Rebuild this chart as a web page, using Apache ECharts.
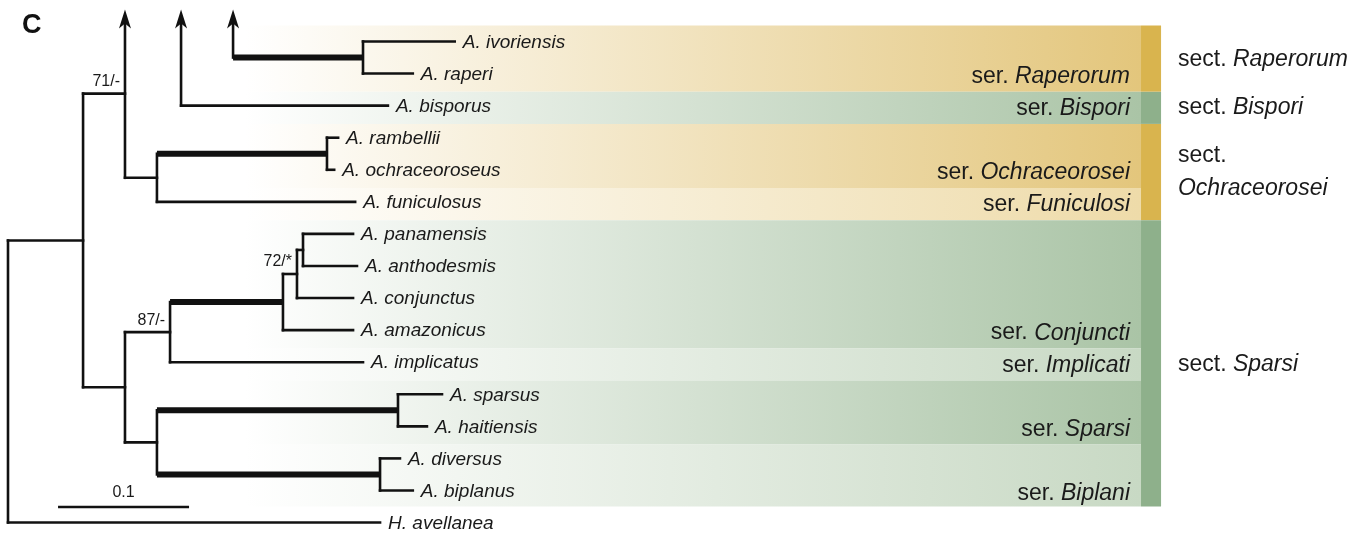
<!DOCTYPE html>
<html><head><meta charset="utf-8">
<script src="https://cdn.jsdelivr.net/npm/echarts@6/dist/echarts.min.js"></script>
<style>html,body{margin:0;padding:0;background:#fff}#c{width:1363px;height:533px}</style>
</head><body><div id="c"></div>
<script>
// ---------------- data ----------------
const tipNames = ['A. ivoriensis','A. raperi','A. bisporus','A. rambellii','A. ochraceoroseus','A. funiculosus','A. panamensis','A. anthodesmis','A. conjunctus','A. amazonicus','A. implicatus','A. sparsus','A. haitiensis','A. diversus','A. biplanus','H. avellanea'];
const tipDepths = [0.341,0.309,0.290,0.252,0.249,0.265,0.2634,0.2664,0.2634,0.2634,0.271,0.3313,0.3198,0.2992,0.309,0.284];
const tipParents = ['raper','raper','n71','ochr','ochr','ochFun','panAnth','panAnth','n72','conjG','n87','spars','spars','bipl','bipl','root'];
const nodeNames = ['root','ingroup','n71','raper','ochFun','ochr','sparsiSect','n87','conjG','n72','panAnth','spBi','spars','bipl'];
const nodeDepths = [0,0.0573,0.0893,0.271,0.1137,0.2435,0.0893,0.1237,0.2099,0.2206,0.2252,0.1137,0.2977,0.2840];
const nodeParents = [null,'root','ingroup','n71','n71','ochFun','ingroup','sparsiSect','n87','conjG','n72','sparsiSect','spBi','spBi'];
const nodeSupport = ['','','71/-','','','','','87/-','','72/*','','','',''];
const thickStems = ['raper','ochr','conjG','spars','bipl'];
const cutStems = ['raper','A. bisporus'];
const cutStemDepths = [0.1718,0.1321];
const seriesNames = ['Raperorum','Bispori','Ochraceorosei','Funiculosi','Conjuncti','Implicati','Sparsi','Biplani'];
const seriesFirst = [0,2,3,5,6,10,11,13];
const seriesLast  = [1,2,4,5,9,10,12,14];
const seriesTone  = ['gold','green','gold','goldLight','green','greenLight','green','greenLight'];
const sectNames = ['Raperorum','Bispori','Ochraceorosei','Sparsi'];
const sectFirst = [0,2,3,6];
const sectLast  = [1,2,5,14];
const sectTone  = ['gold','green','gold','green'];
const scaleBarLength = 0.1;
const scaleBarLabel = '0.1';
const panelLetter = 'C';

// ---------------- layout / style ----------------
const PX_PER_UNIT = 1310, ROOT_PX = 8, ROW0_PX = 41.5, ROW_PX = 32.07, W = 1363, H = 533;
const CUT_ROW = -1;
const BAND_X0 = 0.1809, BAND_X1 = 0.8649, STRIP_X1 = 0.8802, SER_LABEL_X = 0.8565, SECT_LABEL_X = 0.8931;
const EDGE_SHIFT = 0.07;
const SCALE_X0 = 0.0382, SCALE_ROW = 14.515;
const FONT = '"Liberation Sans", Arial, Helvetica, sans-serif';
const TONES = {gold:'#e3c67c', goldLight:'#eedba9', green:'#aac4a6', greenLight:'#c8d9c4'};
const STRIP = {gold:'#d9b44e', green:'#8eb08b'};
const INK = '#111';

// ---------------- tree computation ----------------
const entries = {};
tipNames.forEach((n,i)=>entries[n]={name:n,depth:tipDepths[i],parent:tipParents[i],tip:true,row:i});
nodeNames.forEach((n,i)=>entries[n]={name:n,depth:nodeDepths[i],parent:nodeParents[i],tip:false,support:nodeSupport[i]});
const isCut = n => cutStems.indexOf(n) >= 0;
const childrenOf = n => Object.values(entries).filter(e=>e.parent===n);
function rowOf(n){
  const e = entries[n];
  if (e.row !== undefined) return e.row;
  const rs = childrenOf(n).map(c => isCut(c.name) ? CUT_ROW : rowOf(c.name));
  e.min = Math.min(...rs); e.max = Math.max(...rs);
  e.row = (e.min + e.max)/2;
  return e.row;
}
nodeNames.forEach(rowOf);
const segs = [], arrows = [], tipLabels = [], supports = [];
Object.values(entries).forEach(e=>{
  const thick = thickStems.indexOf(e.name)>=0 ? 1 : 0;
  if (e.parent !== null) {
    const ci = cutStems.indexOf(e.name);
    if (ci >= 0) {
      const s = cutStemDepths[ci];
      segs.push([s, e.row, e.depth, e.row, thick]);
      segs.push([s, e.row, s, CUT_ROW, 0]);
      arrows.push([s, CUT_ROW]);
    } else {
      segs.push([entries[e.parent].depth, e.row, e.depth, e.row, thick]);
    }
  }
  if (!e.tip) {
    segs.push([e.depth, e.min, e.depth, e.max, 0]);
    if (e.min === CUT_ROW) arrows.push([e.depth, CUT_ROW]);
    if (e.support) supports.push([e.depth, e.row, e.support]);
  } else {
    tipLabels.push([e.depth, e.row, e.name]);
  }
});
const lastRow = seriesLast[seriesLast.length-1];
const topEdge = f => f - 0.5 + (f > 0 ? EDGE_SHIFT : 0);
const botEdge = l => l + 0.5 + (l < lastRow ? EDGE_SHIFT : 0);
const bands = seriesNames.map((n,i)=>[topEdge(seriesFirst[i]), botEdge(seriesLast[i]), seriesLast[i], n, seriesTone[i]]);
const sects = sectNames.map((n,i)=>[topEdge(sectFirst[i]), botEdge(sectLast[i]), (sectFirst[i]+sectLast[i])/2, n, sectTone[i]]);

// ---------------- chart ----------------
const chart = echarts.init(document.getElementById('c'), null, {renderer:'canvas'});
const xMin = -ROOT_PX/PX_PER_UNIT, xMax = (W-ROOT_PX)/PX_PER_UNIT;
const yMin = -ROW0_PX/ROW_PX, yMax = (H-ROW0_PX)/ROW_PX;
function grad(c){ return new echarts.graphic.LinearGradient(0,0,1,0,[{offset:0,color:'#ffffff'},{offset:1,color:c}]); }

chart.setOption({
  animation:false,
  grid:{left:0,right:0,top:0,bottom:0},
  xAxis:{type:'value',min:xMin,max:xMax,show:false},
  yAxis:{type:'value',min:yMin,max:yMax,inverse:true,show:false},
  graphic:[{type:'text',left:22,top:12,style:{text:panelLetter,font:'bold 27px '+FONT,fill:INK}}],
  series:[
    { // series bands
      type:'custom',silent:true,z:1,data:bands,encode:{x:[],y:[0,1]},
      renderItem(p,api){
        const b = bands[p.dataIndex];
        const a = api.coord([BAND_X0,b[0]]), c = api.coord([BAND_X1,b[1]]);
        const t = api.coord([SER_LABEL_X,b[2]]);
        return {type:'group',children:[
          {type:'rect',shape:{x:a[0],y:a[1],width:c[0]-a[0],height:c[1]-a[1]},style:{fill:grad(TONES[b[4]])}},
          {type:'text',x:t[0],y:t[1]+3,style:{text:'{n|ser. }{i|'+b[3]+'}',align:'right',verticalAlign:'middle',
            rich:{n:{font:'23px '+FONT,fill:'#1a1a1a'},i:{font:'italic 23px '+FONT,fill:'#1a1a1a'}}}}
        ]};
      }
    },
    { // section strips
      type:'custom',silent:true,z:2,data:sects,encode:{x:[],y:[0,1]},
      renderItem(p,api){
        const s = sects[p.dataIndex];
        const a = api.coord([BAND_X1,s[0]]), c = api.coord([STRIP_X1,s[1]]);
        const t = api.coord([SECT_LABEL_X,s[2]]);
        const twoLine = s[3].length > 10;
        const txt = twoLine ? '{n|sect.}\n{i|'+s[3]+'}' : '{n|sect. }{i|'+s[3]+'}';
        return {type:'group',children:[
          {type:'rect',shape:{x:a[0],y:a[1],width:c[0]-a[0],height:c[1]-a[1]},style:{fill:STRIP[s[4]]}},
          {type:'text',x:t[0],y:t[1]+2,style:{text:txt,align:'left',verticalAlign:'middle',
            rich:{n:{font:'23px '+FONT,fill:'#1a1a1a',lineHeight:33},i:{font:'italic 23px '+FONT,fill:'#1a1a1a',lineHeight:33}}}}
        ]};
      }
    },
    { // branches
      type:'custom',silent:true,z:5,data:segs,encode:{x:[0,2],y:[1,3]},
      renderItem(p,api){
        const s = segs[p.dataIndex];
        const a = api.coord([s[0],s[1]]), b = api.coord([s[2],s[3]]);
        if (s[1] === CUT_ROW) a[1] += 11;
        if (s[3] === CUT_ROW) b[1] += 11;
        return {type:'line',shape:{x1:a[0],y1:a[1],x2:b[0],y2:b[1]},
          style:{stroke:INK,lineWidth:s[4]?6:2.6,lineCap:s[4]?'butt':'square'}};
      }
    },
    { // arrowheads
      type:'custom',silent:true,z:6,data:arrows,encode:{x:0,y:1},
      renderItem(p,api){
        const t = api.coord(arrows[p.dataIndex]);
        const x=t[0], y=t[1];
        return {type:'polygon',shape:{points:[[x,y],[x+6,y+19],[x,y+14],[x-6,y+19]]},style:{fill:INK}};
      }
    },
    { // tip labels
      type:'custom',silent:true,z:7,data:tipLabels,encode:{x:0,y:1},
      renderItem(p,api){
        const d = tipLabels[p.dataIndex];
        const t = api.coord([d[0],d[1]]);
        return {type:'text',x:t[0]+8,y:t[1]+1,style:{text:d[2],font:'italic 19px '+FONT,fill:'#1a1a1a',align:'left',verticalAlign:'middle'}};
      }
    },
    { // support values
      type:'custom',silent:true,z:7,data:supports,encode:{x:0,y:1},
      renderItem(p,api){
        const d = supports[p.dataIndex];
        const t = api.coord([d[0],d[1]]);
        return {type:'text',x:t[0]-5,y:t[1]-4,style:{text:d[2],font:'16px '+FONT,fill:'#1a1a1a',align:'right',verticalAlign:'bottom'}};
      }
    },
    { // scale bar
      type:'custom',silent:true,z:7,data:[[SCALE_X0,SCALE_ROW,scaleBarLength]],encode:{x:0,y:1},
      renderItem(p,api){
        const a = api.coord([SCALE_X0,SCALE_ROW]), b = api.coord([SCALE_X0+scaleBarLength,SCALE_ROW]);
        return {type:'group',children:[
          {type:'line',shape:{x1:a[0],y1:a[1],x2:b[0],y2:b[1]},style:{stroke:INK,lineWidth:2.6}},
          {type:'text',x:(a[0]+b[0])/2,y:a[1]-6,style:{text:scaleBarLabel,font:'16px '+FONT,fill:'#1a1a1a',align:'center',verticalAlign:'bottom'}}
        ]};
      }
    }
  ]
});
</script></body></html>
